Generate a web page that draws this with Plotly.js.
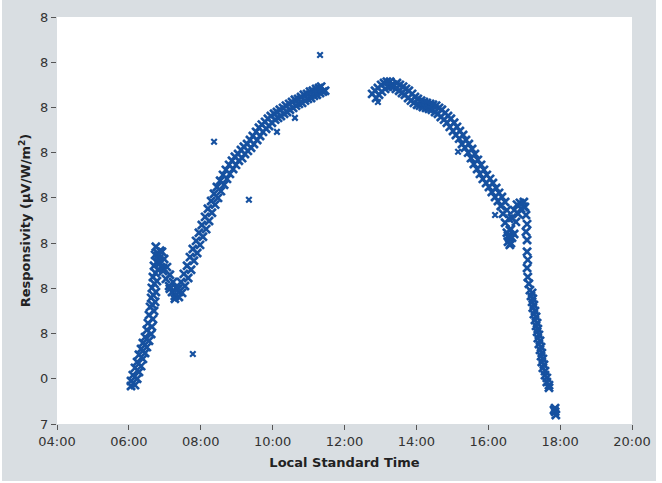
<!DOCTYPE html>
<html>
<head>
<meta charset="utf-8">
<script src="https://cdn.plot.ly/plotly-3.0.1.min.js"></script>
<style>
html,body{margin:0;padding:0;background:#ffffff;width:662px;height:483px;overflow:hidden;}
#chart{position:absolute;left:2px;top:0px;width:654px;height:481px;}
</style>
</head>
<body>
<div id="chart"></div>
<script>
// Local standard time in decimal hours, responsivity on the chart's own tick scale
const morningTime = [6.06,6.06,6.17,6.11,6.23,6.17,6.28,6.23,6.34,6.28,6.39,6.34,6.45,6.39,6.50,6.45,6.56,6.50,6.62,6.53,6.64,6.56,6.67,6.59,6.70,6.66,6.62,6.73,6.68,6.64,6.75,6.71,6.67,6.78,6.74,6.70,6.81,6.77,6.73,6.84,6.80,6.75,6.87,6.81,6.92,6.87,6.98,6.95,6.95,7.06,7.03,7.14,7.12,7.23,7.14,7.20,7.31,7.28,7.39,7.28,7.39,7.37,7.48,7.45,7.56,7.53,7.65,7.62,7.73,7.70,7.81,7.78,7.90,7.87,7.98,7.95,8.06,8.03,8.15,8.12,8.23,8.20,8.31,8.29,8.40,8.37,8.48,8.45,8.56,8.54,8.65,8.62,8.73,8.70,8.81,8.79,8.90,8.87,8.98,8.95,9.06,9.04,9.15,9.12,9.23,9.20,9.31,9.29,9.40,9.37,9.48,9.45,9.57,9.54,9.65,9.62,9.73,9.70,9.82,9.79,9.90,9.87,9.98,9.95,10.07,10.04,10.15,10.12,10.23,10.20,10.32,10.29,10.40,10.37,10.48,10.46,10.57,10.54,10.65,10.62,10.73,10.71,10.82,10.79,10.90,10.87,10.98,10.96,11.07,11.04,11.15,11.12,11.23,11.21,11.32,11.29,11.40,11.35,11.46];
const morningValue = [0.84,0.95,0.86,1.08,1.00,1.24,1.15,1.37,1.28,1.53,1.44,1.66,1.57,1.79,1.70,1.92,1.84,2.08,1.99,2.23,2.15,2.41,2.32,2.59,2.50,2.63,2.79,2.70,2.85,3.01,2.92,3.10,3.25,3.16,3.34,3.50,3.41,3.58,3.74,3.65,3.78,3.92,3.83,3.72,3.81,3.56,3.65,3.45,3.38,3.47,3.21,3.30,3.05,3.14,2.99,2.92,3.01,2.83,2.92,2.77,2.81,2.99,2.90,3.14,3.05,3.32,3.23,3.50,3.41,3.69,3.61,3.87,3.78,4.05,3.96,4.23,4.14,4.40,4.31,4.58,4.49,4.76,4.67,4.93,4.85,5.09,5.00,5.24,5.15,5.38,5.29,5.51,5.42,5.62,5.53,5.73,5.64,5.82,5.73,5.91,5.82,5.97,5.88,6.06,5.97,6.13,6.04,6.19,6.11,6.28,6.19,6.37,6.28,6.46,6.37,6.55,6.46,6.62,6.53,6.68,6.59,6.75,6.66,6.81,6.73,6.86,6.77,6.90,6.81,6.95,6.86,6.99,6.90,7.04,6.95,7.08,6.99,7.12,7.04,7.17,7.08,7.19,7.10,7.23,7.15,7.28,7.19,7.30,7.21,7.35,7.26,7.37,7.28,7.41,7.32,7.43,7.35,7.46,7.37];

const afternoonTime = [12.77,12.88,12.85,12.96,12.93,13.04,13.02,13.13,13.10,13.21,13.18,13.29,13.27,13.38,13.35,13.46,13.43,13.54,13.52,13.63,13.60,13.71,13.68,13.79,13.77,13.88,13.85,13.96,13.93,14.04,14.02,14.13,14.10,14.21,14.18,14.29,14.27,14.38,14.35,14.46,14.43,14.55,14.52,14.63,14.60,14.71,14.68,14.80,14.77,14.88,14.85,14.96,14.93,15.05,15.02,15.13,15.10,15.21,15.19,15.30,15.27,15.38,15.35,15.46,15.44,15.55,15.52,15.63,15.60,15.71,15.69,15.80,15.77,15.88,15.85,15.96,15.94,16.05,16.02,16.13,16.10,16.22,16.19,16.30,16.27,16.38,16.35,16.47,16.41,16.52,16.47,16.58,16.52,16.63,16.55,16.66,16.60,16.58,16.55,16.63,16.60,16.72,16.66,16.77,16.72,16.83,16.80,16.91,16.88,16.99,17.02,16.99,17.05,17.08,17.05,17.08,17.08,17.10,17.08,17.10,17.13,17.16,17.22,17.19,17.24,17.22,17.27,17.24,17.30,17.27,17.33,17.30,17.36,17.33,17.38,17.36,17.41,17.38,17.44,17.41,17.47,17.44,17.49,17.47,17.52,17.49,17.55,17.52,17.58,17.58,17.63,17.63,17.69,17.69,17.86,17.86,17.88,17.83];
const afternoonValue = [7.30,7.21,7.37,7.28,7.43,7.35,7.50,7.41,7.54,7.46,7.57,7.48,7.57,7.48,7.46,7.54,7.41,7.50,7.37,7.46,7.32,7.41,7.28,7.37,7.21,7.30,7.15,7.23,7.10,7.19,7.06,7.15,7.04,7.12,7.01,7.10,6.99,7.08,6.97,7.06,6.95,7.04,6.90,6.99,6.86,6.95,6.79,6.88,6.73,6.81,6.66,6.75,6.57,6.66,6.48,6.57,6.39,6.48,6.31,6.39,6.19,6.28,6.11,6.19,6.00,6.08,5.88,5.97,5.75,5.84,5.64,5.73,5.53,5.62,5.42,5.51,5.33,5.42,5.24,5.33,5.13,5.22,5.02,5.11,4.93,5.02,4.82,4.91,4.65,4.73,4.45,4.54,4.23,4.31,4.03,4.12,3.96,4.12,4.16,4.00,4.29,4.20,4.56,4.47,4.73,4.65,4.85,4.76,4.89,4.80,4.80,4.91,4.62,4.42,4.25,4.07,3.81,3.63,3.45,3.25,3.10,2.96,2.90,2.83,2.77,2.70,2.63,2.57,2.50,2.43,2.37,2.30,2.23,2.17,2.10,2.04,1.97,1.90,1.84,1.77,1.70,1.64,1.57,1.50,1.44,1.37,1.31,1.24,1.17,1.08,1.02,0.93,0.86,0.80,0.35,0.27,0.20,0.31];

const outlierTime = [11.32,8.37,9.34,10.12,10.62,7.78,16.19,15.16,12.93];
const outlierValue = [8.16,6.24,4.96,6.46,6.77,1.55,4.62,6.02,7.12];

const xTickValues = [4,6,8,10,12,14,16,18,20];
const xTickText = ['04:00','06:00','08:00','10:00','12:00','14:00','16:00','18:00','20:00'];
const yTickValues = [0,1,2,3,4,5,6,7,8,9];
const yTickText = ['7','0','8','8','8','8','8','8','8','8'];

const bandMarker = {symbol:'x-thin-open', size:8, color:'#1651a0', line:{width:2.7, color:'#1651a0'}};
const singleMarker = {symbol:'x-thin-open', size:5.5, color:'#1651a0', line:{width:2.2, color:'#1651a0'}};

const traces = [
  {x: morningTime, y: morningValue, type:'scatter', mode:'markers', marker: bandMarker, showlegend:false, hoverinfo:'x+y'},
  {x: afternoonTime, y: afternoonValue, type:'scatter', mode:'markers', marker: bandMarker, showlegend:false, hoverinfo:'x+y'},
  {x: outlierTime, y: outlierValue, type:'scatter', mode:'markers', marker: singleMarker, showlegend:false, hoverinfo:'x+y'}
];

const layout = {
  width: 654, height: 481,
  paper_bgcolor: '#d9dee2',
  plot_bgcolor: '#ffffff',
  margin: {l:55, r:24, t:17, b:57},
  font: {family:'DejaVu Sans, Verdana, sans-serif', size:13, color:'#333333'},
  xaxis: {
    range:[4,20], tickvals:xTickValues, ticktext:xTickText,
    showgrid:false, zeroline:false, showline:false,
    ticks:'outside', ticklen:5, tickwidth:1, tickcolor:'#555555',
    tickfont:{size:13, color:'#333333'},
    title:{text:'<b>Local Standard Time</b>', font:{size:13, color:'#222222'}, standoff:10},
    automargin:false
  },
  yaxis: {
    range:[0,9], tickvals:yTickValues, ticktext:yTickText,
    showgrid:false, zeroline:false, showline:false,
    ticks:'outside', ticklen:5, tickwidth:1, tickcolor:'#555555',
    tickfont:{size:13, color:'#333333'},
    title:{text:'<b>Responsivity (μV/W/m<sup>2</sup>)</b>', font:{size:13, color:'#222222'}, standoff:6},
    automargin:false
  }
};

Plotly.newPlot('chart', traces, layout, {displayModeBar:false, staticPlot:true});
</script>
</body>
</html>
